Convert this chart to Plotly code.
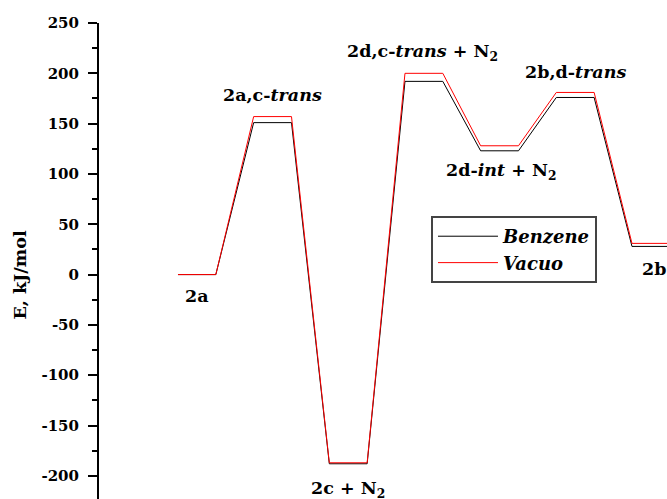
import plotly.graph_objects as go

# Reaction-coordinate positions (each state is a flat plateau from 2i to 2i+1)
x_pos = [0, 1, 2, 3, 4, 5, 6, 7, 8, 9, 10, 11, 12, 13]
benzene = [0, 0, 151, 151, -188, -188, 192, 192, 123, 123, 176, 176, 28, 28]
vacuo = [0, 0, 157, 157, -187, -187, 200, 200, 128, 128, 181, 181, 31, 31]

state_labels = ["2a", "2a,c-<i>trans</i>", "2c + N<sub>2</sub>", "2d,c-<i>trans</i> + N<sub>2</sub>",
                "2d-<i>int</i> + N<sub>2</sub>", "2b,d-<i>trans</i>", "2b"]
label_x = [0.5, 2.5, 4.5, 6.45, 8.55, 10.5, 12.2]
label_y = [-21, 178, -214, 221, 102, 201, 6]
label_anchor = ["center", "center", "center", "center", "center", "center", "left"]

tick_vals = [-200, -150, -100, -50, 0, 50, 100, 150, 200, 250]
tick_text = ["-200", "-150", "-100", "-50", "0", "50", "100", "150", "200", "250"]

FONT = "DejaVu Serif"

fig = go.Figure()
fig.add_trace(go.Scatter(x=x_pos, y=benzene, mode="lines", name="Benzene",
                         line=dict(color="#000000", width=1)))
fig.add_trace(go.Scatter(x=x_pos, y=vacuo, mode="lines", name="Vacuo",
                         line=dict(color="#ff0000", width=1)))

for t, lx, ly, anc in zip(state_labels, label_x, label_y, label_anchor):
    fig.add_annotation(x=lx, y=ly, xref="x", yref="y", text=t, showarrow=False,
                       xanchor=anc, yanchor="middle",
                       font=dict(family=FONT, size=17.5, color="black", weight="bold"))

fig.add_annotation(x=0, xref="paper", xshift=-79, y=0, yref="y", text="E, kJ/mol",
                   textangle=-90, showarrow=False, xanchor="center", yanchor="middle",
                   font=dict(family=FONT, size=17.5, color="black", weight="bold"))

fig.update_layout(
    width=667, height=499,
    margin=dict(l=99, r=0, t=23, b=0),
    plot_bgcolor="white", paper_bgcolor="white",
    font=dict(family=FONT, color="black"),
    showlegend=True,
    legend=dict(x=0.5845, y=0.5945, xanchor="left", yanchor="top",
                bordercolor="#444444", borderwidth=2, bgcolor="white",
                font=dict(family=FONT, size=18, color="black", weight="bold", style="italic"),
                itemwidth=60),
    xaxis=dict(visible=False, range=[-2.088, 12.926], automargin=False),
    yaxis=dict(range=[-223, 250], showgrid=False, zeroline=False, automargin=False,
               showline=True, linecolor="black", linewidth=2,
               ticks="outside", ticklen=9, tickwidth=2, tickcolor="black",
               tickmode="array", tickvals=tick_vals, ticktext=tick_text,
               ticklabelstandoff=6,
               tickfont=dict(family=FONT, size=15, color="black", weight="bold"),
               minor=dict(ticks="outside", ticklen=5, tickwidth=2, tickcolor="black",
                          tickmode="linear", tick0=0, dtick=25)),
)

fig.write_html("out.html", config={"displayModeBar": False},
               post_script="document.body.style.margin='0';document.body.style.overflow='hidden';")
